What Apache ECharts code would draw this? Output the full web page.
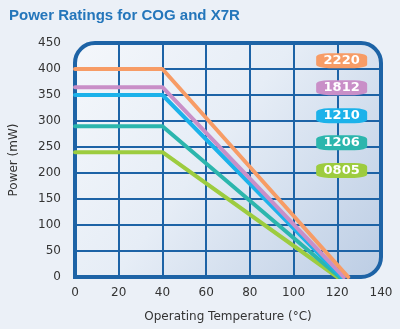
<!DOCTYPE html>
<html>
<head>
<meta charset="utf-8">
<script src="https://cdn.jsdelivr.net/npm/echarts@6/dist/echarts.min.js"></script>
<style>
  html, body { margin: 0; padding: 0; background: #ebf0f7; }
  #chart { width: 400px; height: 329px; }
</style>
</head>
<body>
<div id="chart"></div>
<script>
// Derating curves: rated power held flat up to 40 °C, then falling to zero.
const sizes = ['2220', '1812', '1210', '1206', '0805'];
const ratedPower = [400, 365, 350, 290, 240];        // mW, flat region
const kneeTemp = [40, 40, 40, 40, 40];               // °C, start of derating
const zeroTemp = [125, 123, 122, 121, 120];          // °C, power reaches 0
const colors = ['#f79c66', '#c98fc8', '#1cb2ea', '#2cb6ad', '#9dcc3f'];
const xTicks = [0, 20, 40, 60, 80, 100, 120, 140];
const yTicks = [0, 50, 100, 150, 200, 250, 300, 350, 400, 450];

// Badge column placement (data space), kept apart from the values above
const badgeX = 122;
const badgeY = [416, 364, 310, 258, 205];

const chart = echarts.init(document.getElementById('chart'), null, { renderer: 'canvas' });

const gridLine = '#1d63a6';
const frameColor = '#1d63a6';

const series = sizes.map((name, i) => ({
  name,
  type: 'line',
  data: [[0, ratedPower[i]], [kneeTemp[i], ratedPower[i]], [zeroTemp[i], 0]],
  symbol: 'none',
  z: 10 - i,
  lineStyle: { color: colors[i], width: 4, cap: 'round', join: 'round' },
  markPoint: {
    symbol: 'roundRect',
    symbolSize: [51, 15],
    itemStyle: { color: colors[i] },
    label: {
      show: true,
      formatter: name,
      color: '#ffffff',
      fontWeight: 'bold',
      fontSize: 13,
      fontFamily: 'DejaVu Sans'
    },
    data: [{ coord: [badgeX, badgeY[i]] }]
  }
}));

chart.setOption({
  backgroundColor: '#ebf0f7',
  animation: false,
  title: {
    text: 'Power Ratings for COG and X7R',
    left: 4,
    top: 3,
    textStyle: { color: '#2476bb', fontSize: 15, fontWeight: 'bold', fontFamily: 'Liberation Sans' }
  },
  grid: { left: 73, right: 19, top: 43, bottom: 52, containLabel: false },
  xAxis: {
    type: 'value',
    min: xTicks[0],
    max: xTicks[xTicks.length - 1],
    interval: xTicks[1] - xTicks[0],
    name: 'Operating Temperature (°C)',
    nameLocation: 'middle',
    nameGap: 34,
    nameTextStyle: { color: '#333', fontSize: 12, fontFamily: 'DejaVu Sans' },
    axisLine: { show: false },
    axisTick: { show: false },
    axisLabel: { color: '#333', fontSize: 12, margin: 10, fontFamily: 'DejaVu Sans' },
    splitLine: { show: true, showMinLine: false, showMaxLine: false, lineStyle: { color: gridLine, width: 2 } }
  },
  yAxis: {
    type: 'value',
    min: yTicks[0],
    max: yTicks[yTicks.length - 1],
    interval: yTicks[1] - yTicks[0],
    name: 'Power (mW)',
    nameLocation: 'middle',
    nameGap: 55,
    nameTextStyle: { color: '#333', fontSize: 12, fontFamily: 'DejaVu Sans' },
    axisLine: { show: false },
    axisTick: { show: false },
    axisLabel: { color: '#333', fontSize: 12, margin: 14, fontFamily: 'DejaVu Sans' },
    splitLine: { show: true, showMinLine: false, showMaxLine: false, lineStyle: { color: gridLine, width: 2 } }
  },
  series
});

// Plot panel: gradient backdrop and rounded frame sized from the grid's pixel box
const tl = chart.convertToPixel({ gridIndex: 0 }, [xTicks[0], yTicks[yTicks.length - 1]]);
const br = chart.convertToPixel({ gridIndex: 0 }, [xTicks[xTicks.length - 1], yTicks[0]]);
const w = br[0] - tl[0];
const h = br[1] - tl[1];

chart.setOption({
  graphic: [
    {
      type: 'rect',
      z: -10,
      silent: true,
      shape: { x: tl[0], y: tl[1], width: w, height: h, r: [20, 20, 20, 0] },
      style: {
        fill: new echarts.graphic.LinearGradient(0, 0, 1, 1, [
          { offset: 0, color: '#f4f7fb' },
          { offset: 0.45, color: '#e6edf6' },
          { offset: 1, color: '#bccde4' }
        ])
      }
    },
    {
      type: 'rect',
      z: 5,
      silent: true,
      shape: { x: tl[0], y: tl[1], width: w, height: h, r: [20, 20, 20, 0] },
      style: { fill: null, stroke: frameColor, lineWidth: 4 }
    }
  ]
});
</script>
</body>
</html>
